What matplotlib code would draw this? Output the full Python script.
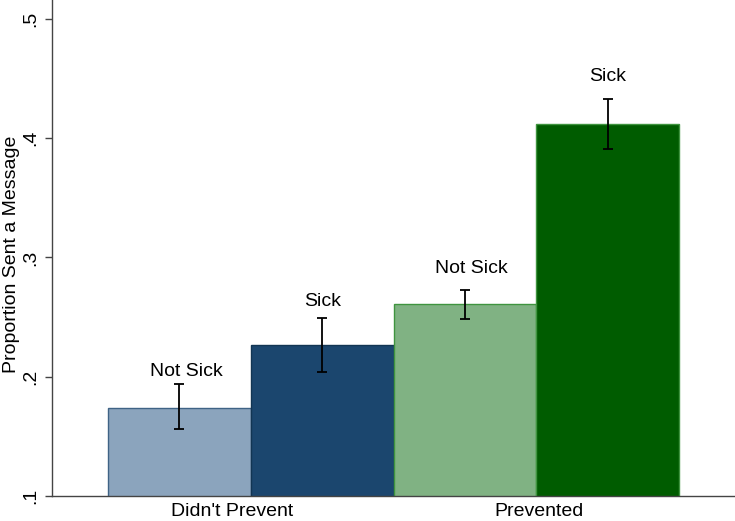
import matplotlib
matplotlib.use("Agg")
import matplotlib.pyplot as plt
import numpy as np

# Datos
grupos = ["Didn't Prevent", "Prevented"]
etiquetas = ["Not Sick", "Sick", "Not Sick", "Sick"]
proporcion = [0.174, 0.227, 0.261, 0.412]
ic_bajo = [0.156, 0.204, 0.248, 0.391]
ic_alto = [0.194, 0.249, 0.273, 0.433]
colores = ["#8ba4bd", "#1b466e", "#80b283", "#005c00"]
bordes = ["#3f6385", "#123553", "#3f943f", "#3f943f"]

plt.rcParams['font.family'] = ['Liberation Sans', 'DejaVu Sans']

fig = plt.figure(figsize=(7.35, 5.21), dpi=100)
ax = fig.add_axes([52 / 735, 25 / 521, 1 - 52 / 735, 496 / 521])

x = np.arange(len(proporcion))
ax.bar(x, proporcion, width=1.0, color=colores, edgecolor=bordes, linewidth=1.0, zorder=2)

err = [np.array(proporcion) - np.array(ic_bajo), np.array(ic_alto) - np.array(proporcion)]
ax.errorbar(x, proporcion, yerr=err, fmt='none', ecolor='black', elinewidth=1.3,
            capsize=3.6, capthick=1.3, zorder=3)

# separacion de cada etiqueta sobre su barra de error (puntos)
sep = [6, 8.5, 12, 13]
for xi, alto, et, s in zip(x, ic_alto, etiquetas, sep):
    ax.annotate(et, (xi, alto), xytext=(5 if et == "Not Sick" else 0, s),
                textcoords='offset points', ha='center', va='baseline', fontsize=14)

ax.set_xlim(-0.893, 3.893)
ax.set_ylim(0.1, 0.5158)
ax.set_yticks([0.1, 0.2, 0.3, 0.4, 0.5])
ax.set_yticklabels([".1", ".2", ".3", ".4", ".5"], rotation=90, va='center', fontsize=14)
ax.tick_params(axis='y', length=5, width=1, color='#444444', pad=4)

ax.set_xticks([0.37, 2.52])
ax.set_xticklabels(grupos, fontsize=14)
ax.tick_params(axis='x', length=0, pad=5)

ax.set_ylabel("Proportion Sent a Message", fontsize=14, labelpad=2)
ax.yaxis.label.set_y(0.488)

for lado in ['top', 'right']:
    ax.spines[lado].set_visible(False)
for lado in ['left', 'bottom']:
    ax.spines[lado].set_color('#444444')
    ax.spines[lado].set_linewidth(1.0)

fig.savefig("out.png", dpi=100)
